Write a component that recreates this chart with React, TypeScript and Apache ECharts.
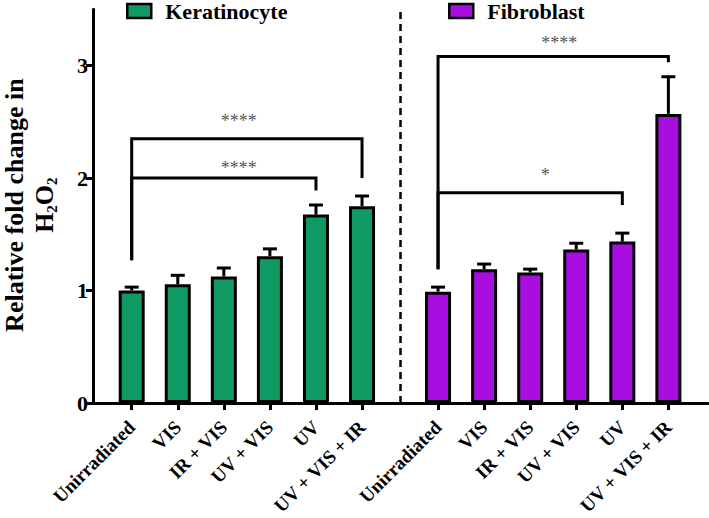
import React, { useEffect, useRef } from 'react';
import * as echarts from 'echarts';

const FONT = 'Liberation Serif';

// ---- data ----
const categories = ['Unirradiated', 'VIS', 'IR + VIS', 'UV + VIS', 'UV', 'UV + VIS + IR'];
const keratinocyteMean = [1.0, 1.055, 1.125, 1.305, 1.675, 1.75];
const keratinocyteSem = [0.03, 0.08, 0.075, 0.065, 0.085, 0.09];
const fibroblastMean = [0.99, 1.19, 1.16, 1.365, 1.435, 2.57];
const fibroblastSem = [0.04, 0.045, 0.03, 0.055, 0.075, 0.33];
const yTicks = [0, 1, 2, 3];

// significance brackets: group, from index, to index, bracket height, left leg end, right leg end, label
const brackets = [
  { group: 'K', from: 0, to: 5, top: 2.35, legFrom: 1.27, legTo: 2.0, label: '****' },
  { group: 'K', from: 0, to: 4, top: 2.0, legFrom: 1.27, legTo: 1.89, label: '****' },
  { group: 'F', from: 0, to: 5, top: 3.08, legFrom: 1.19, legTo: 3.03, label: '****' },
  { group: 'F', from: 0, to: 4, top: 1.87, legFrom: 1.19, legTo: 1.76, label: '*' },
];

// ---- layout ----
const GROUP_OFFSET = 6.65;
const SEPARATOR = 5.83;
const starShift = [
  [-8, 21],
  [15, 13],
  [6, 17],
  [15, 21],
];
const GREEN = '#0f9a63';
const PURPLE = '#a80ee0';

const kPos = categories.map((_, i) => i);
const fPos = categories.map((_, i) => i + GROUP_OFFSET);
const allPos = [...kPos, ...fPos];
const labelMap: Record<string, string> = {};
allPos.forEach((p, i) => {
  labelMap[p.toFixed(2)] = categories[i % categories.length];
});

export default function App() {
  const ref = useRef<HTMLDivElement>(null);
  useEffect(() => {
    const chart = echarts.init(ref.current!, null, { renderer: 'svg' });

    const errData = [
      ...kPos.map((p, i) => [p, keratinocyteMean[i], keratinocyteMean[i] + keratinocyteSem[i]]),
      ...fPos.map((p, i) => [p, fibroblastMean[i], fibroblastMean[i] + fibroblastSem[i]]),
    ];
    const bracketData = brackets.map((b, i) => {
      const pos = b.group === 'K' ? kPos : fPos;
      return [pos[b.from], pos[b.to], b.top, b.legFrom, b.legTo, i];
    });

    const legendBase = {
      top: 0,
      padding: 0,
      itemWidth: 24,
      itemHeight: 14,
      icon: 'rect',
      itemStyle: { borderColor: '#000', borderWidth: 2.5 },
      textStyle: { fontFamily: FONT, fontWeight: 'bold', fontSize: 22, color: '#000', padding: [0, 0, 0, 9] },
      selectedMode: false,
    };

    const option: any = {
      animation: false,
      textStyle: { fontFamily: FONT },
      grid: { left: 93, right: 1, top: 9.25, bottom: 115, containLabel: false, outerBoundsMode: 'none' },
      legend: [
        { ...legendBase, data: ['Keratinocyte'], left: 126 },
        { ...legendBase, data: ['Fibroblast'], left: 448 },
      ],
      xAxis: {
        type: 'value',
        min: -0.84,
        max: 12.51,
        splitLine: { show: false },
        axisLine: { show: true, onZero: false, lineStyle: { color: '#000', width: 3 } },
        axisTick: { show: true, customValues: allPos, length: 7, lineStyle: { color: '#000', width: 3 } },
        axisLabel: {
          customValues: allPos,
          rotate: 45,
          margin: 21,
          fontFamily: FONT,
          fontWeight: 'bold',
          fontSize: 19,
          color: '#000',
          formatter: (v: number) => labelMap[v.toFixed(2)] ?? '',
        },
      },
      yAxis: {
        type: 'value',
        min: 0,
        max: 3.5,
        splitLine: { show: false },
        axisLine: { show: true, onZero: false, lineStyle: { color: '#000', width: 3 } },
        axisTick: { show: true, customValues: yTicks, length: 7, lineStyle: { color: '#000', width: 3 } },
        axisLabel: {
          customValues: yTicks,
          margin: 5,
          fontFamily: FONT,
          fontWeight: 'bold',
          fontSize: 22,
          color: '#000',
        },
        name: 'Relative fold change in\n{m|H}{s|2}{m|O}{s|2}',
        nameLocation: 'middle',
        nameRotate: 90,
        nameGap: 34,
        nameTextStyle: {
          fontFamily: FONT,
          fontWeight: 'bold',
          fontSize: 26,
          color: '#000',
          lineHeight: 30,
          padding: [0, 0, 0, 2],
          rich: {
            m: { fontFamily: FONT, fontWeight: 'bold', fontSize: 26, color: '#000', lineHeight: 30 },
            s: { fontFamily: FONT, fontWeight: 'bold', fontSize: 15, color: '#000', lineHeight: 30, verticalAlign: 'bottom' },
          },
        },
      },
      series: [
        {
          name: 'Keratinocyte',
          type: 'bar',
          barWidth: 26,
          barGap: '-100%',
          data: kPos.map((p, i) => [p, keratinocyteMean[i]]),
          itemStyle: { color: GREEN, borderColor: '#000', borderWidth: 3 },
          z: 2,
          markLine: {
            silent: true,
            symbol: ['none', 'none'],
            label: { show: false },
            lineStyle: { type: [7, 5], color: '#000', width: 2.5 },
            data: [{ xAxis: SEPARATOR }],
          },
        },
        {
          name: 'Fibroblast',
          type: 'bar',
          barWidth: 26,
          barGap: '-100%',
          data: fPos.map((p, i) => [p, fibroblastMean[i]]),
          itemStyle: { color: PURPLE, borderColor: '#000', borderWidth: 3 },
          z: 2,
        },
        {
          type: 'custom',
          name: 'err',
          z: 3,
          data: errData,
          encode: { x: 0, y: [1, 2] },
          renderItem: (params: any, api: any) => {
            const x = api.value(0);
            const base = api.coord([x, api.value(1)]);
            const top = api.coord([x, api.value(2)]);
            return {
              type: 'group',
              children: [
                { type: 'line', shape: { x1: base[0], y1: base[1], x2: top[0], y2: top[1] }, style: { stroke: '#000', lineWidth: 3 } },
                { type: 'line', shape: { x1: top[0] - 7, y1: top[1], x2: top[0] + 7, y2: top[1] }, style: { stroke: '#000', lineWidth: 3 } },
              ],
            };
          },
        },
        {
          type: 'custom',
          name: 'sig',
          z: 4,
          data: bracketData,
          encode: { x: [0, 1], y: [2, 3, 4] },
          renderItem: (params: any, api: any) => {
            const x1 = api.value(0);
            const x2 = api.value(1);
            const pTop1 = api.coord([x1, api.value(2)]);
            const pTop2 = api.coord([x2, api.value(2)]);
            const pL = api.coord([x1, api.value(3)]);
            const pR = api.coord([x2, api.value(4)]);
            const idx = api.value(5);
            const sh = starShift[idx];
            return {
              type: 'group',
              children: [
                {
                  type: 'polyline',
                  shape: { points: [pL, pTop1, pTop2, pR] },
                  style: { stroke: '#000', lineWidth: 3, fill: 'none' },
                },
                {
                  type: 'text',
                  style: {
                    text: brackets[idx].label,
                    x: (pTop1[0] + pTop2[0]) / 2 + sh[0],
                    y: pTop1[1] - sh[1] + 3,
                    fill: '#555',
                    fontFamily: FONT,
                    fontSize: 18,
                    align: 'center',
                    verticalAlign: 'middle',
                  },
                },
              ],
            };
          },
        },
      ],
    };
    chart.setOption(option);
    return () => chart.dispose();
  }, []);
  return <div ref={ref} style={{ position: 'absolute', left: 0, top: 0, width: 709, height: 518 }} />;
}
